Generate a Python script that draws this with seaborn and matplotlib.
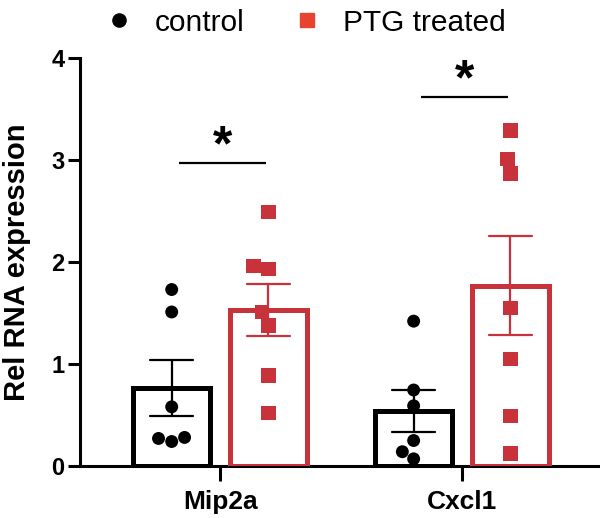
import numpy as np
import pandas as pd
import matplotlib
matplotlib.use("Agg")
import matplotlib.pyplot as plt
import seaborn as sns
from matplotlib.lines import Line2D

# ---- data ----
genes = ["Mip2a", "Cxcl1"]
groups = ["control", "PTG treated"]
mip2a_control = [1.73, 1.51, 0.58, 0.24, 0.28, 0.27]
mip2a_ptg = [2.49, 1.93, 1.96, 1.51, 1.38, 0.89, 0.52]
cxcl1_control = [1.42, 0.745, 0.59, 0.25, 0.14, 0.07]
cxcl1_ptg = [3.29, 3.01, 2.87, 1.55, 1.05, 0.49, 0.12]
yticks = [0, 1, 2, 3, 4]
sig_heights = [2.97, 3.62]   # y of significance bars per gene
sig_labels = ["*", "*"]

rows = []
for gene, grp, vals in [("Mip2a", "control", mip2a_control),
                        ("Mip2a", "PTG treated", mip2a_ptg),
                        ("Cxcl1", "control", cxcl1_control),
                        ("Cxcl1", "PTG treated", cxcl1_ptg)]:
    for v in vals:
        rows.append({"gene": gene, "group": grp, "value": v})
df = pd.DataFrame(rows)

RED = "#c8323a"
palette = {"control": "black", "PTG treated": RED}

sns.set_style("ticks")
plt.rcParams["font.family"] = ["Liberation Sans", "DejaVu Sans"]
plt.rcParams["text.color"] = "black"
plt.rcParams["axes.labelcolor"] = "black"
plt.rcParams["xtick.color"] = "black"
plt.rcParams["ytick.color"] = "black"
plt.rcParams["axes.edgecolor"] = "black"

fig = plt.figure(figsize=(6, 5.18), dpi=100)
ax = fig.add_axes([80 / 600, 52 / 518, (598 - 80) / 600, (466 - 58) / 518])

sns.barplot(data=df, x="gene", y="value", hue="group", order=genes,
            hue_order=groups, palette=palette, errorbar="se", fill=False,
            width=0.8, gap=0.2, linewidth=3.6, capsize=0.36,
            err_kws={"linewidth": 1.6}, legend=False, ax=ax, zorder=3)

sns.swarmplot(data=df[df.group == "control"], x="gene", y="value", hue="group",
              order=genes, hue_order=groups, palette=palette, dodge=True,
              marker="o", size=9.3, legend=False, ax=ax, zorder=2)
sns.swarmplot(data=df[df.group == "PTG treated"], x="gene", y="value", hue="group",
              order=genes, hue_order=groups, palette=palette, dodge=True,
              marker="s", size=10.5, legend=False, ax=ax, zorder=2)

# significance bars
for i, (h, lab) in enumerate(zip(sig_heights, sig_labels)):
    ax.plot([i - 0.17, i + 0.19], [h, h], color="black", lw=1.6,
            solid_capstyle="butt", clip_on=False)
    ax.text(i + 0.01, h - 0.07, lab, ha="center", va="bottom",
            fontsize=36, fontweight="bold", color="black")

ax.set_ylim(0, 4)
ax.set_xlim(-0.579, 1.562)
ax.set_yticks(yticks)
ax.set_yticklabels([str(t) for t in yticks], fontsize=17, fontweight="bold")
ax.set_xticks(range(len(genes)))
ax.set_xticklabels(genes, fontsize=19, fontweight="bold")
ax.set_xlabel("")
ax.set_ylabel("Rel RNA expression", fontsize=21, fontweight="bold", labelpad=15)
sns.despine(ax=ax)
for s in ["left", "bottom"]:
    ax.spines[s].set_linewidth(2.2)
ax.tick_params(axis="y", length=9, width=2.2, pad=2)
ax.tick_params(axis="x", length=11, width=2.2, pad=6)

handles = [Line2D([], [], marker="o", color="black", ls="none", markersize=9.5),
           Line2D([], [], marker="s", color="#e8432e", ls="none", markersize=10)]
fig.legend(handles, groups, loc="upper center", bbox_to_anchor=(0.508, 1.035),
           ncol=2, frameon=False, fontsize=21.5, handlelength=1.0,
           handletextpad=0.7, columnspacing=1.57)

fig.savefig("out.png", dpi=100)
